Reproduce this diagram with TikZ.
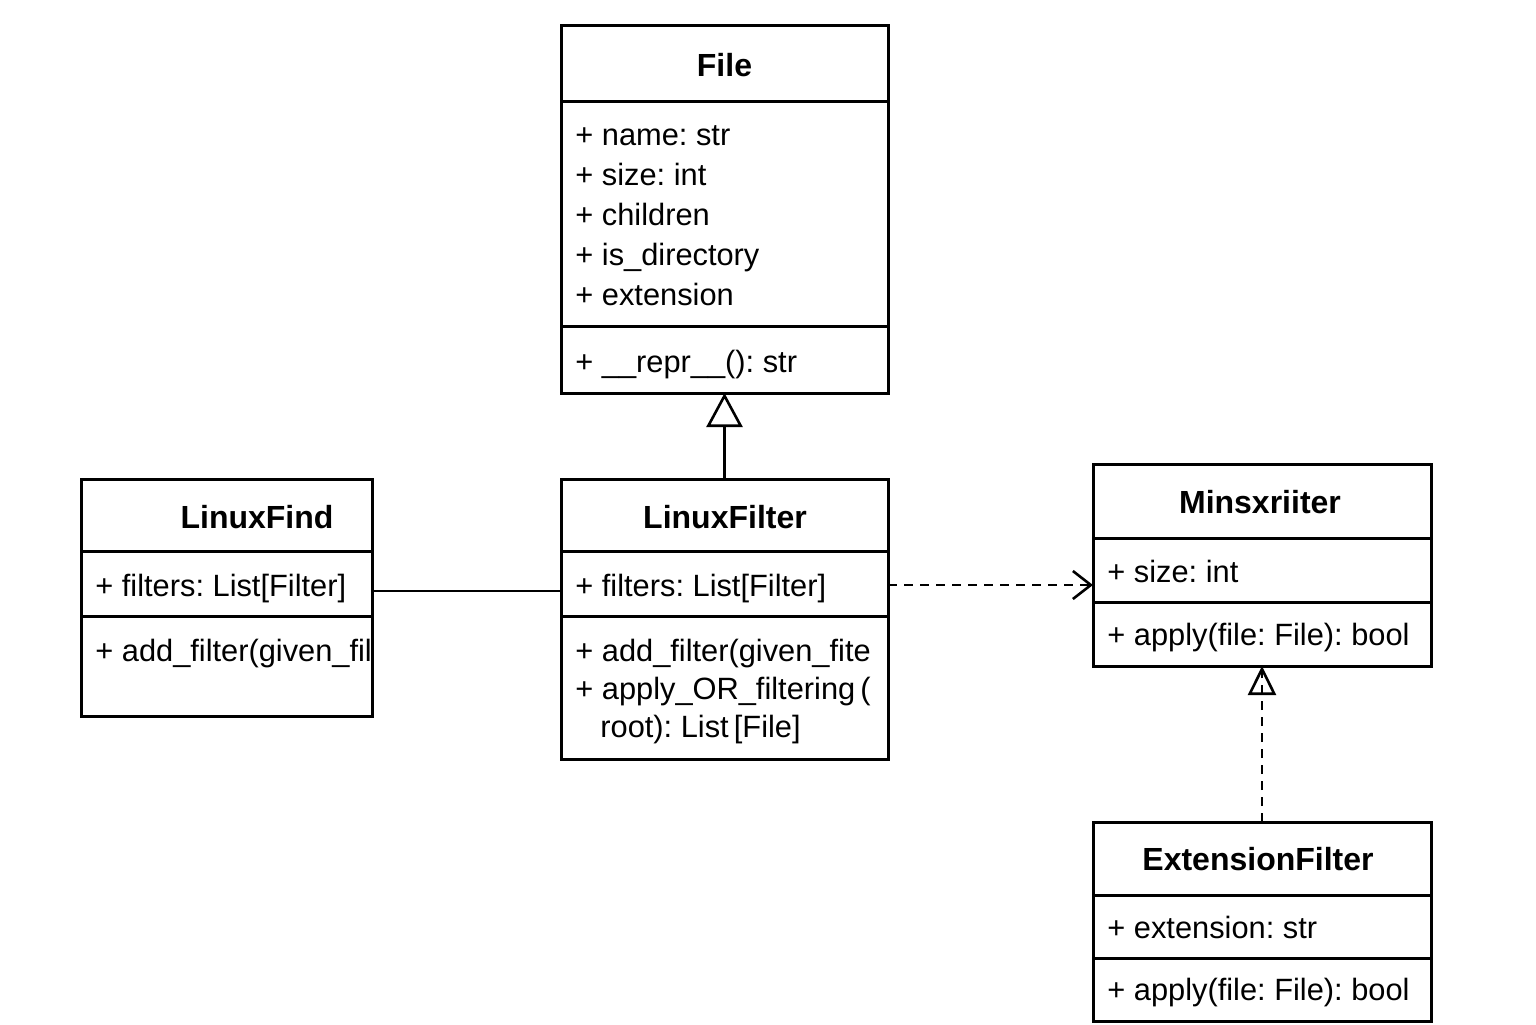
\documentclass[tikz,border=0pt]{standalone}
\usepackage{fontspec}
\setmainfont{Liberation Sans}
\usetikzlibrary{arrows.meta,calc}
\frenchspacing
\tikzset{
  cls/.style={draw, line width=1.5pt, inner sep=0pt, outer sep=0pt},
  divline/.style={line width=1.5pt},
  attr/.style={anchor=base west, inner sep=0pt, font=\frenchspacing\fontsize{15.4}{20}\selectfont},
  ttl/.style={anchor=base, inner sep=0pt, font=\bfseries\fontsize{16}{20}\selectfont},
  conn/.style={line width=1.3pt},
  dsh/.style={dash pattern=on 4.5pt off 3.5pt}
}
\begin{document}
\begin{tikzpicture}[x=0.5pt,y=-0.5pt]
\useasboundingbox (0,0) rectangle (1536,1024);

% File
\node[cls, minimum width=163.5pt, minimum height=184pt] (file) at (724.5,209) {};
\draw[divline] (file.west |- 0,101) -- (file.east |- 0,101);
\draw[divline] (file.west |- 0,326) -- (file.east |- 0,326);
\node[ttl] (fileT) at (724.5,76) {File};
\node[attr] (fileA1) at (575,145) {+ name: str};
\node[attr] (fileA2) at (575,185) {+ size: int};
\node[attr] (fileA3) at (575,225) {+ children};
\node[attr] (fileA4) at (575,265) {+ is\_directory};
\node[attr] (fileA5) at (575,305) {+ extension};
\node[attr] (fileM1) at (575,372) {+ \_\_repr\_\_(): str};

% LinuxFind
\node[cls, minimum width=145.5pt, minimum height=118.5pt] (lfind) at (226.5,597.5) {};
\draw[divline] (lfind.west |- 0,551) -- (lfind.east |- 0,551);
\draw[divline] (lfind.west |- 0,616) -- (lfind.east |- 0,616);
\node[ttl] (lfindT) at (257,528) {LinuxFind};
\node[attr] (lfindA1) at (95,596) {+ filters: List[Filter]};
\node[attr] (lfindM1) at (95,661) {+ add\_filter(given\_fil};

% LinuxFilter
\node[cls, minimum width=163.5pt, minimum height=140pt] (lfilter) at (724.5,619) {};
\draw[divline] (lfilter.west |- 0,551) -- (lfilter.east |- 0,551);
\draw[divline] (lfilter.west |- 0,616) -- (lfilter.east |- 0,616);
\node[ttl] (lfilterT) at (725,528) {LinuxFilter};
\node[attr] (lfilterA1) at (575,596) {+ filters: List[Filter]};
\node[attr] (lfilterM1) at (575,661) {+ add\_filter(given\_fite};
\node[attr] (lfilterM2) at (575,699) {+ apply\_OR\_filtering\,(};
\node[attr] (lfilterM3) at (600,737) {root): List\,[File]};

% Minsxriiter
\node[cls, minimum width=169pt, minimum height=101pt] (minsx) at (1262,565) {};
\draw[divline] (minsx.west |- 0,538) -- (minsx.east |- 0,538);
\draw[divline] (minsx.west |- 0,602) -- (minsx.east |- 0,602);
\node[ttl] (minsxT) at (1260,513) {Minsxriiter};
\node[attr] (minsxA1) at (1107,582) {+ size: int};
\node[attr] (minsxM1) at (1107,645) {+ apply(file: File): bool};

% ExtensionFilter
\node[cls, minimum width=169pt, minimum height=99.5pt] (ext) at (1262,921.5) {};
\draw[divline] (ext.west |- 0,895) -- (ext.east |- 0,895);
\draw[divline] (ext.west |- 0,958) -- (ext.east |- 0,958);
\node[ttl] (extT) at (1258,870) {ExtensionFilter};
\node[attr] (extA1) at (1107,938) {+ extension: str};
\node[attr] (extM1) at (1107,1000) {+ apply(file: File): bool};

% Connectors
\draw[conn, -{Triangle[open, length=17pt, width=18pt, line width=1.3pt]}] (lfilter.north) -- (file.south);
\draw[conn] (lfind.east |- 0,591) -- (lfilter.west |- 0,591);
\draw[conn, dsh, -{Straight Barb[length=9pt, width=14pt, line width=1.3pt]}] (lfilter.east |- 0,585) -- (minsx.west |- 0,585);
\coordinate (realbase) at ($(minsx.south)+(0,29)$);
\draw[conn, dsh] (ext.north) -- (minsx.south);
\draw[conn, -{Triangle[open, length=14.5pt, width=14pt, line width=1.3pt]}] (realbase) -- (minsx.south);
\end{tikzpicture}
\end{document}
